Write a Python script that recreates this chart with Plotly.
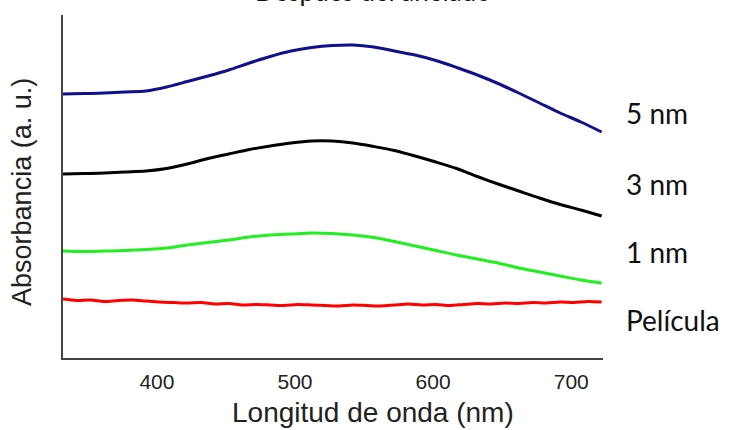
import plotly.graph_objects as go

# Wavelength grid (nm) for the smooth spectra
wl = [332, 347, 362, 377, 392, 407, 422, 437, 452, 467, 482, 497, 512, 527,
      542, 557, 572, 587, 602, 617, 632, 647, 662, 677, 692, 707, 722]

abs_5nm = [2.64, 2.645, 2.65, 2.66, 2.67, 2.71, 2.765, 2.82, 2.88, 2.95, 3.015,
           3.07, 3.105, 3.125, 3.13, 3.11, 3.07, 3.03, 2.975, 2.905, 2.83,
           2.745, 2.65, 2.55, 2.45, 2.36, 2.26]
abs_3nm = [1.84, 1.845, 1.85, 1.86, 1.87, 1.895, 1.94, 1.995, 2.04, 2.085, 2.12,
           2.15, 2.17, 2.17, 2.15, 2.115, 2.075, 2.02, 1.96, 1.895, 1.815, 1.74,
           1.67, 1.60, 1.535, 1.48, 1.42]
abs_1nm = [1.07, 1.065, 1.07, 1.075, 1.085, 1.10, 1.13, 1.155, 1.18, 1.21, 1.23,
           1.24, 1.25, 1.245, 1.23, 1.205, 1.165, 1.12, 1.075, 1.03, 0.99, 0.95,
           0.90, 0.86, 0.82, 0.78, 0.75]

# Film (noisy, finer grid)
wl_film = list(range(332, 723, 10))
abs_film = [0.59, 0.575, 0.58, 0.565, 0.575, 0.58, 0.57, 0.56, 0.555, 0.55,
            0.555, 0.54, 0.545, 0.53, 0.535, 0.53, 0.525, 0.535, 0.53, 0.525,
            0.52, 0.53, 0.525, 0.52, 0.53, 0.54, 0.53, 0.535, 0.525, 0.535,
            0.545, 0.54, 0.55, 0.545, 0.555, 0.55, 0.56, 0.555, 0.565, 0.56]

labels = ["5 nm", "3 nm", "1 nm", "Película"]
label_y = [2.45, 1.74, 1.06, 0.38]
colors = ["#10108c", "#000000", "#22ee22", "#ff0000"]

tick_vals = [400, 500, 600, 700]
x_range = [332, 723]
y_range = [0, 3.43]

fig = go.Figure()
series = [(wl, abs_5nm), (wl, abs_3nm), (wl, abs_1nm), (wl_film, abs_film)]
for (xs, ys), c, name in zip(series, colors, labels):
    fig.add_trace(go.Scatter(x=xs, y=ys, mode="lines", name=name,
                             line=dict(color=c, width=3, shape="spline", smoothing=0.8),
                             showlegend=False, hoverinfo="skip"))

for t, yv in zip(labels, label_y):
    fig.add_annotation(text=t, x=1.039, xref="paper", y=yv, yref="y",
                       xanchor="left", yanchor="middle", showarrow=False,
                       font=dict(family="Lato", size=28, color="#111111"))

# Axis titles
fig.add_annotation(text="Longitud de onda (nm)", x=0.574, xref="paper",
                   y=-0.16, yref="paper", xanchor="center", yanchor="middle",
                   showarrow=False,
                   font=dict(family="Liberation Sans", size=28, color="#222222"))
fig.add_annotation(text="Absorbancia (a. u.)", x=-0.076, xref="paper",
                   y=0.484, yref="paper", xanchor="center", yanchor="middle",
                   textangle=-90, showarrow=False,
                   font=dict(family="Liberation Sans", size=27, color="#222222"))
# Title (mostly cut off at the top edge in the reference)
fig.add_annotation(text="Después del anelado", x=0.574, xref="paper",
                   y=1.0185, yref="paper", xanchor="center", yanchor="bottom",
                   showarrow=False,
                   font=dict(family="Lato", size=26, color="#111111"))

fig.update_layout(
    width=729, height=430,
    margin=dict(l=63, r=126, t=15, b=72),
    paper_bgcolor="white", plot_bgcolor="white",
    xaxis=dict(range=x_range, tickvals=tick_vals, showgrid=False, zeroline=False,
               showline=True, linecolor="#444444", linewidth=2,
               ticks="outside", ticklen=4, tickcolor="rgba(0,0,0,0)",
               tickfont=dict(family="Liberation Sans", size=21, color="#222222")),
    yaxis=dict(range=y_range, showticklabels=False, showgrid=False, zeroline=False,
               showline=True, linecolor="#444444", linewidth=2, ticks=""),
)

fig.write_html("out.html")
